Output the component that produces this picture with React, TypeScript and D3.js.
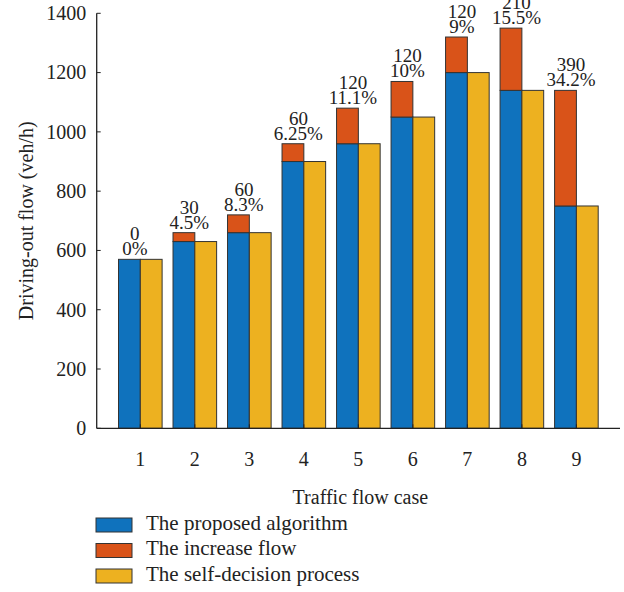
import React from "react";
import * as d3 from "d3";

const cases = [1, 2, 3, 4, 5, 6, 7, 8, 9];
const selfDecision = [570, 630, 660, 900, 960, 1050, 1200, 1140, 750];
const increase = [0, 30, 60, 60, 120, 120, 120, 210, 390];
const increasePct = ["0%", "4.5%", "8.3%", "6.25%", "11.1%", "10%", "9%", "15.5%", "34.2%"];
const yTicks = [0, 200, 400, 600, 800, 1000, 1200, 1400];
const legendLabels = ["The proposed algorithm", "The increase flow", "The self-decision process"];

const COLORS = { blue: "#0F72BD", orange: "#D95319", yellow: "#EDB120" };
const EDGE = "#333333";
const FONT = "'Liberation Serif', 'DejaVu Serif', serif";

export default function App() {
  const W = 624, H = 592;
  const left = 96.7, right = 620, top = 13.3, bottom = 428.3;
  const x = d3.scaleLinear().domain([0.2, 9.8]).range([left, right]);
  const y = d3.scaleLinear().domain([0, 1400]).range([bottom, top]);
  const bw = x(0.4) - x(0);

  const legendColors = [COLORS.blue, COLORS.orange, COLORS.yellow];

  return (
    <svg width={W} height={H} style={{ position: "absolute", left: 0, top: 0, background: "#fff" }} fontFamily={FONT}>
      {/* bars */}
      {cases.map((c, i) => {
        const cx = x(c);
        const base = selfDecision[i];
        const tot = base + increase[i];
        return (
          <g key={c}>
            <rect x={cx - bw} y={y(base)} width={bw} height={y(0) - y(base)} fill={COLORS.blue} stroke={EDGE} strokeWidth={1} />
            {increase[i] > 0 && (
              <rect x={cx - bw} y={y(tot)} width={bw} height={y(base) - y(tot)} fill={COLORS.orange} stroke={EDGE} strokeWidth={1} />
            )}
            <rect x={cx} y={y(base)} width={bw} height={y(0) - y(base)} fill={COLORS.yellow} stroke={EDGE} strokeWidth={1} />
            <text x={x(c - 0.1)} y={y(tot) - 4 - 15} textAnchor="middle" fontSize={19} fill="#222">{increase[i]}</text>
            <text x={x(c - 0.1)} y={y(tot) - 4} textAnchor="middle" fontSize={19} fill="#222">{increasePct[i]}</text>
          </g>
        );
      })}
      {/* axes */}
      <line x1={left} x2={left} y1={top} y2={bottom} stroke="#222" strokeWidth={1.3} />
      <line x1={left} x2={right} y1={bottom} y2={bottom} stroke="#222" strokeWidth={1.3} />
      {yTicks.map((t) => (
        <g key={t}>
          <line x1={left} x2={left + 4} y1={y(t)} y2={y(t)} stroke="#222" strokeWidth={1} />
          <text x={left - 10.5} y={y(t)} dy="0.34em" textAnchor="end" fontSize={20} fill="#222">{t}</text>
        </g>
      ))}
      {cases.map((c) => (
        <g key={c}>
          <line x1={x(c)} x2={x(c)} y1={bottom} y2={bottom - 4} stroke="#222" strokeWidth={1} />
          <text x={x(c)} y={466} textAnchor="middle" fontSize={20} fill="#222">{c}</text>
        </g>
      ))}
      <text x={(left + right) / 2 + 2} y={504} textAnchor="middle" fontSize={20} fill="#222">Traffic flow case</text>
      <text transform={`translate(33,${(top + bottom) / 2}) rotate(-90)`} textAnchor="middle" fontSize={20} fill="#222">Driving-out flow (veh/h)</text>
      {/* legend */}
      {legendLabels.map((l, i) => {
        const cy = 525 + i * 25.5;
        return (
          <g key={l}>
            <rect x={96} y={cy - 7} width={36} height={14} fill={legendColors[i]} stroke={EDGE} strokeWidth={1} />
            <text x={146} y={cy + 4.5} fontSize={21} fill="#222">{l}</text>
          </g>
        );
      })}
    </svg>
  );
}
